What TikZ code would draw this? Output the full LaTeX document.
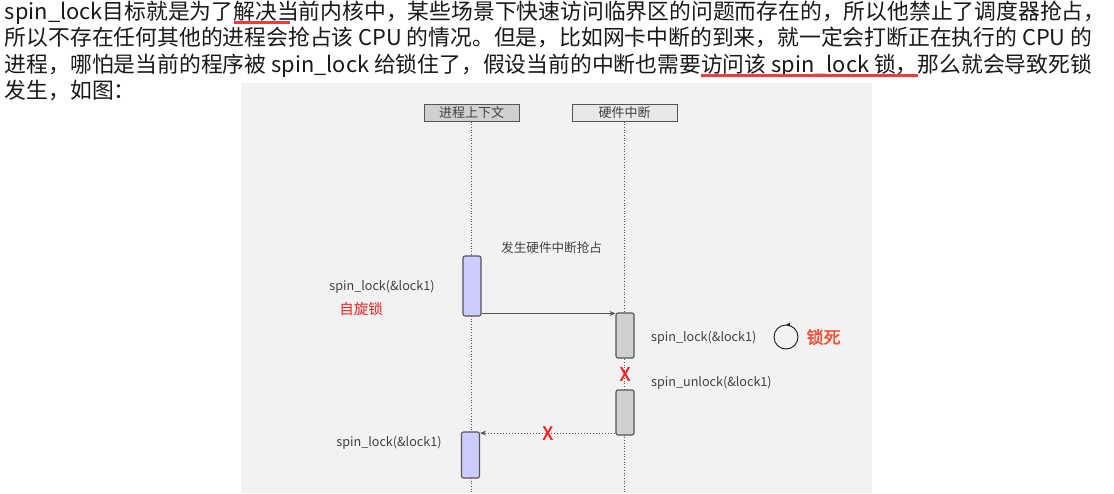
\documentclass[tikz,border=0pt]{standalone}
\usepackage{fontspec}
\setmainfont{Noto Sans CJK SC}
\newfontfamily\boldcjk[FakeBold=2]{Noto Sans CJK SC}
\usepackage{tikz}
\usetikzlibrary{arrows.meta, positioning, calc}
\definecolor{inkblack}{RGB}{25, 25, 25}
\definecolor{ulred}{RGB}{240, 60, 60}
\definecolor{panelgray}{RGB}{242, 242, 242}
\definecolor{edgegray}{RGB}{85, 85, 85}
\definecolor{labelgray}{RGB}{64, 64, 64}
\definecolor{ctxfill}{RGB}{208, 208, 208}
\definecolor{irqfill}{RGB}{232, 232, 232}
\definecolor{lavender}{RGB}{204, 204, 255}
\definecolor{busygray}{RGB}{208, 208, 208}
\definecolor{crossred}{RGB}{255, 30, 30}
\definecolor{lockred}{RGB}{255, 77, 51}

\begin{document}
\begin{tikzpicture}[
    x=1pt, y=-1pt,
    para/.style={anchor=base west, inner sep=0pt, outer sep=0pt, text=inkblack, font=\fontsize{21.8}{26}\selectfont},
    hilite/.style={draw=ulred, line width=3.5pt},
    header/.style={draw=edgegray, line width=1pt, minimum height=17pt, inner sep=0pt, text=labelgray, font=\fontsize{13}{15}\selectfont},
    lifeline/.style={draw=edgegray, dotted, line width=0.7pt},
    actbox/.style={draw=edgegray, line width=1.1pt, rounded corners=2pt, minimum width=18pt, inner sep=0pt},
    calltext/.style={inner sep=0pt, text=labelgray, font=\fontsize{12.6}{15}\selectfont},
    msg/.style={-{Stealth[length=6pt, width=5pt]}, draw=edgegray, line width=1pt},
    reply/.style={msg, dotted},
    cross/.style={inner sep=0pt, text=crossred, font=\boldcjk\fontsize{18}{18}\selectfont}
]
    \fill[white] (0,0) rectangle (1114,493);
    \useasboundingbox (0,0) rectangle (1114,493);

    % Text - paragraph
    \node[para] (line1) at (5,19) {spin\_lock目标就是为了};
    \node[para] (line1b) at (line1.base east) {解决};
    \node[para] (line1c) at (line1b.base east) {当前内核中，某些场景下快速访问临界区的问题而存在的，所以他禁止了调度器抢占，};
    \node[para] (line2) at (5,45.5) {所以不存在任何其他的进程会抢占该 CPU 的情况。但是，比如网卡中断的到来，就一定会打断正在执行的 CPU 的};
    \node[para] (line3) at (5,72) {进程，哪怕是当前的程序被 spin\_lock 给锁住了，假设当前的中断也需要};
    \node[para] (line3b) at (line3.base east) {访问该 spin\_lock 锁，};
    \node[para] (line3c) at (line3b.base east) {那么就会导致死锁};
    \node[para] (line4) at (5,98.5) {发生，如图：};

    % Underlines
    \draw[hilite] ([yshift=-3.5pt]line1b.base west) -- ([xshift=13pt, yshift=-3.5pt]line1b.base east);
    \draw[hilite] ([yshift=-3.5pt]line3b.base west) -- ([yshift=-3.5pt]line3b.base east);

    % Diagram panel
    \fill[panelgray] (241,83) rectangle (872,493);

    % Nodes - headers
    \node[header, fill=ctxfill, minimum width=95pt] (ctx) at (471.5,112.5) {进程上下文};
    \node[header, fill=irqfill, minimum width=105pt] (irq) at (624.5,112.5) {硬件中断};
    \coordinate (ctxend) at (471.5,493);
    \coordinate (irqend) at (624.5,493);

    % Lifelines
    \draw[lifeline] (ctx.south) -- (ctxend);
    \draw[lifeline] (irq.south) -- (irqend);

    % Nodes - activations
    \node[actbox, fill=lavender, minimum height=60pt] (act1) at (472,286) {};
    \node[actbox, fill=busygray, minimum height=45pt] (act2) at (625,335.5) {};
    \node[actbox, fill=busygray, minimum height=45pt] (act3) at (625,412.5) {};
    \node[actbox, fill=lavender, minimum height=46pt] (act4) at (470.5,455) {};

    % Labels
    \node[calltext, anchor=west] (preempt) at (501,248) {发生硬件中断抢占};
    \node[calltext] (lock1) at (382,287) {spin\_lock(\&lock1)};
    \node[inner sep=0pt, text=crossred, font=\fontsize{14.5}{16}\selectfont] (spinny) at (361,309) {自旋锁};
    \node[calltext, anchor=west] (lock2) at (651,337.5) {spin\_lock(\&lock1)};
    \node[draw=inkblack, circle, line width=0.9pt, minimum size=24pt, inner sep=0pt] (spin) at (786,337) {};
    \node[inner sep=0pt, anchor=west, text=lockred, font=\boldcjk\fontsize{17}{17}\selectfont, right=8pt of spin] (dead) {锁死};
    \node[calltext, anchor=west] (unlock) at (651,383) {spin\_unlock(\&lock1)};
    \node[calltext] (lock3) at (389,443) {spin\_lock(\&lock1)};

    % Arrows
    \draw[-{Stealth[length=4pt, width=4pt]}, draw=inkblack, line width=0.8pt] ([xshift=3pt]spin.north) -- ([xshift=0.5pt]spin.north);
    \draw[msg] ([yshift=-1pt]act1.east |- act2.north) -- ([yshift=-1pt]act2.north west);
    \draw[reply] ([yshift=2.5pt]act3.south west) -- ([yshift=2.5pt]act3.south west -| act4.east) node[cross, midway] {X};
    \node[cross] (blocked) at ($(act2.south)!0.5!(act3.north)$) {X};
\end{tikzpicture}
\end{document}
